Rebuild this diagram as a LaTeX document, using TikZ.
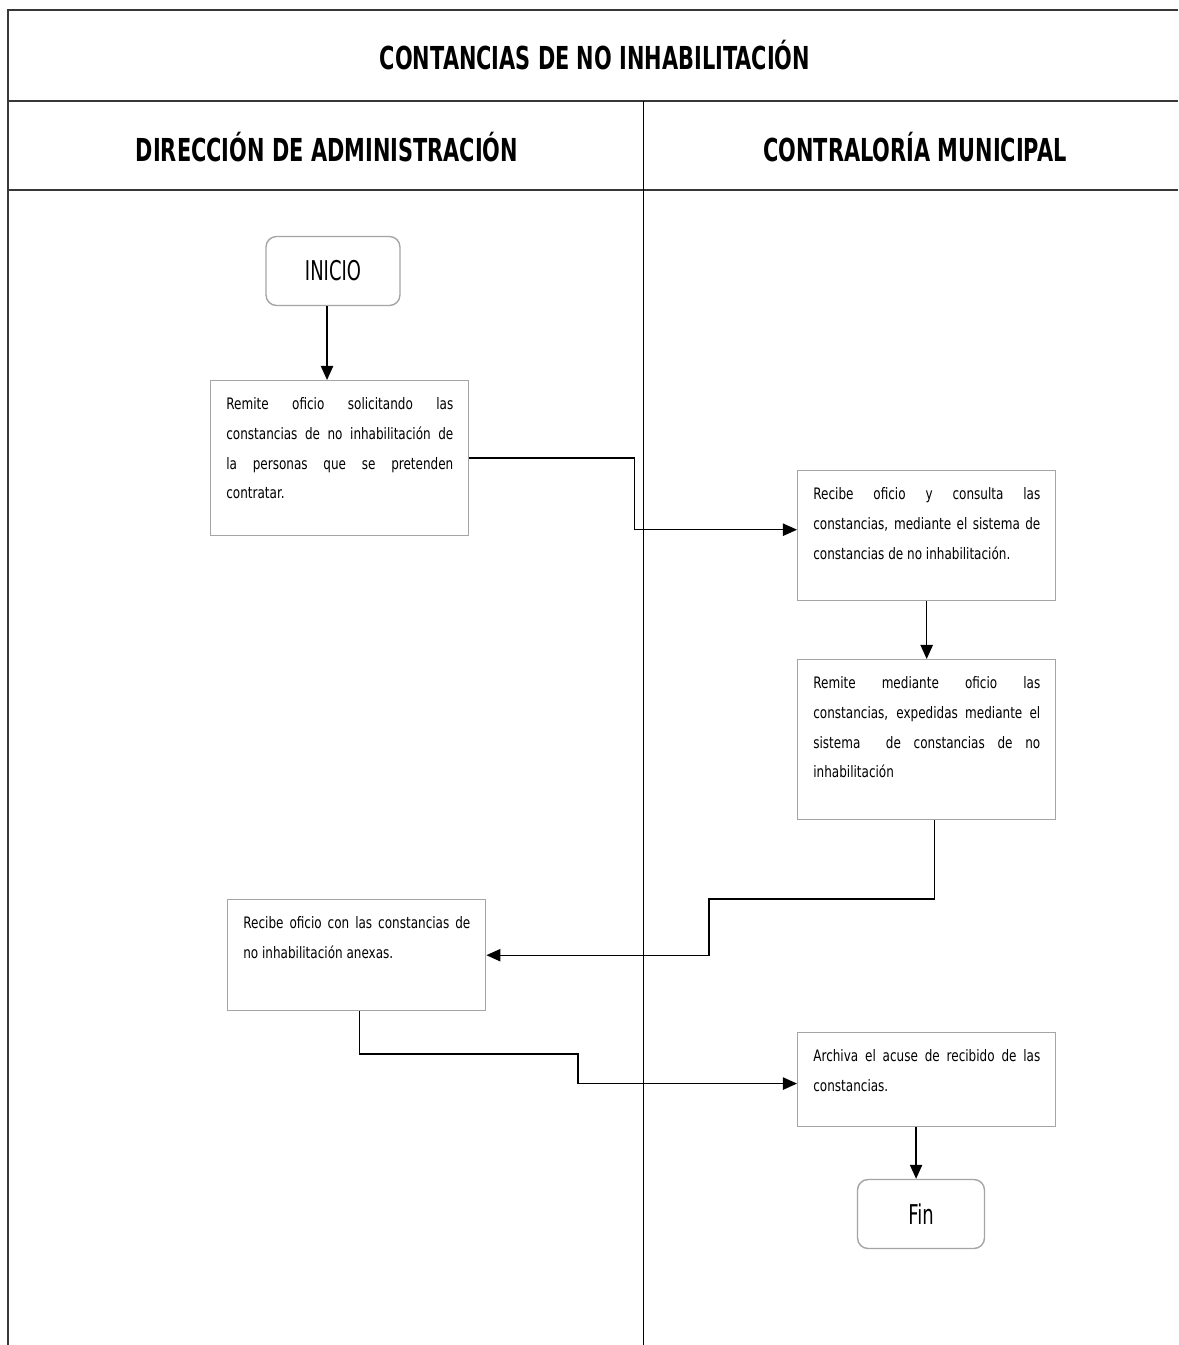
\documentclass[tikz,border=0pt]{standalone}
\usepackage{fontspec}
\setmainfont{DejaVu Sans}[FakeStretch=0.76]
\newfontfamily\headfont{DejaVu Sans}[FakeStretch=0.66]
\usetikzlibrary{arrows.meta,positioning}
\definecolor{linegray}{RGB}{55,55,55}
\definecolor{boxgray}{RGB}{165,165,165}
\newcommand{\nohyph}{\hyphenpenalty=10000 \exhyphenpenalty=10000\relax}
\tikzset{
  frm/.style={linegray, line width=1.2pt},
  lane/.style={black, line width=0.45pt},
  ttl/.style={font=\headfont\bfseries\fontsize{18}{20}\selectfont},
  term/.style={draw=boxgray, line width=0.8pt, rounded corners=6pt,
              minimum height=1.38cm, font=\headfont\fontsize{15.5}{18}\selectfont},
  proc/.style={draw=boxgray, line width=0.8pt, minimum width=5.16cm, anchor=north west},
  txt/.style={text width=4.54cm, align=justify, inner sep=0pt, anchor=north west,
              font=\fontsize{9}{17}\selectfont\nohyph},
  flow/.style={-{Triangle[length=8pt, width=7pt]}, black, line width=0.8pt},
}

\begin{document}
\begin{tikzpicture}[x=0.02cm, y=-0.02cm]
    \useasboundingbox (0,0) rectangle (1178,1345);
    \fill[white] (0,0) rectangle (1178,1345);
    % marco y carriles
    \draw[frm] (1178,10) -- (8,10) -- (8,1345);
    \draw[frm] (8,101) -- (1178,101);
    \draw[frm] (8,190) -- (1178,190);
    \draw[lane] (643,101) -- (643,1345);
    \node[ttl] (title) at (595,55) {CONTANCIAS DE NO INHABILITACIÓN};
    \node[ttl] (laneA) at (327,147) {DIRECCIÓN DE ADMINISTRACIÓN};
    \node[ttl] (laneB) at (915,147) {CONTRALORÍA MUNICIPAL};
    % pasos
    \node[term, minimum width=2.68cm] (inicio) at (333,271) {INICIO};
    \node[proc, minimum height=3.1cm] (b1) at (210,380) {};
    \node[txt] (t1) at ([shift={(16,17)}]b1.north west)
      {Remite oficio solicitando las\linebreak constancias de no inhabilitación de\linebreak la personas que se pretenden\linebreak contratar.};
    \node[proc, minimum height=2.6cm] (b2) at (797,470) {};
    \node[txt] (t2) at ([shift={(16,17)}]b2.north west)
      {Recibe oficio y consulta las\linebreak constancias, mediante el sistema de\linebreak constancias de no inhabilitación.};
    \node[proc, minimum height=3.2cm] (b3) at (797,659) {};
    \node[txt] (t3) at ([shift={(16,17)}]b3.north west)
      {Remite mediante oficio las\linebreak constancias, expedidas mediante el\linebreak sistema\ \ de constancias de no\linebreak inhabilitación};
    \node[proc, minimum height=2.22cm] (b4) at (227,899) {};
    \node[txt] (t4) at ([shift={(16,17)}]b4.north west)
      {Recibe oficio con las constancias de\linebreak no inhabilitación anexas.};
    \node[proc, minimum height=1.88cm] (b5) at (797,1032) {};
    \node[txt] (t5) at ([shift={(16,17)}]b5.north west)
      {Archiva el acuse de recibido de las\linebreak constancias.};
    \node[term, minimum width=2.54cm] (fin) at (921,1214) {Fin};
    \coordinate (c1) at (709,899);
    \coordinate (c2) at (578,1054);
    % conectores
    \draw[flow] ([xshift=-3.4pt]inicio.south) -- ([xshift=-3.4pt]inicio.south |- b1.north);
    \draw[flow] (b1.east) -- ++(165,0) |- ([yshift=3.4pt]b2.west);
    \draw[flow] (b2.south) -- (b3.north);
    \draw[flow] ([xshift=4.5pt]b3.south) |- (c1) |- (b4.east);
    \draw[flow] ([xshift=1.7pt]b4.south) |- (c2) |- ([yshift=-2.2pt]b5.west);
    \draw[flow] ([xshift=-2.8pt]fin.north |- b5.south) -- ([xshift=-2.8pt]fin.north);
\end{tikzpicture}
\end{document}
